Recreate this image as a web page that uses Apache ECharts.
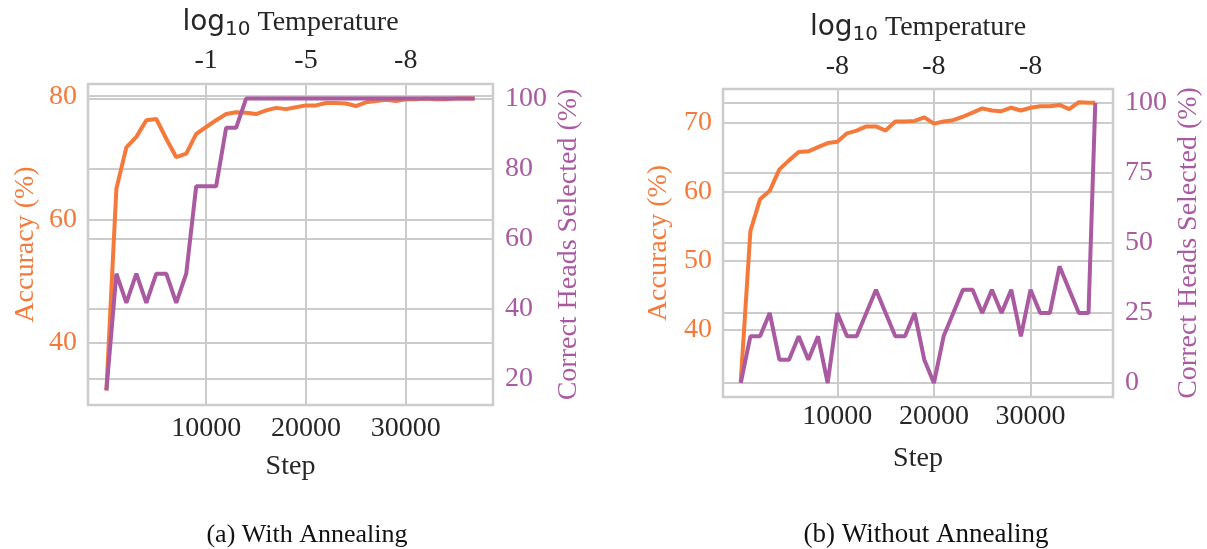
<!doctype html>
<html lang="en">
<head>
<meta charset="UTF-8">
<title>Annealing</title>
<script src="https://cdn.jsdelivr.net/npm/echarts@6/dist/echarts.min.js"></script>
<style>
  html, body { margin: 0; padding: 0; background: #fff; }
  #main { width: 1207px; height: 549px; }
</style>
</head>
<body>
<div id="main"></div>
<script>
// (a) with annealing
var stepsA = [0, 1000, 2000, 3000, 4000, 5000, 6000, 7000, 8000, 9000, 10000, 11000, 12000,
  13000, 14000, 15000, 16000, 17000, 18000, 19000, 20000, 21000, 22000, 23000, 24000, 25000,
  26000, 27000, 28000, 29000, 30000, 31000, 32000, 33000, 34000, 35000, 36000, 36900];
var accA = [32.3, 65.0, 71.7, 73.4, 76.1, 76.3, 73.1, 70.1, 70.7, 73.9, 75.0, 76.1, 77.1,
  77.4, 77.3, 77.1, 77.7, 78.1, 77.9, 78.2, 78.5, 78.5, 78.9, 78.9, 78.8, 78.4,
  79.0, 79.2, 79.4, 79.2, 79.5, 79.5, 79.6, 79.5, 79.5, 79.6, 79.6, 79.6];
var headsA = [16.67, 50, 41.67, 50, 41.67, 50, 50, 41.67, 50, 75, 75, 75, 91.67,
  91.67, 100, 100, 100, 100, 100, 100, 100, 100, 100, 100, 100, 100,
  100, 100, 100, 100, 100, 100, 100, 100, 100, 100, 100, 100];
var tempA = ['-1', '-5', '-8'];

// (b) without annealing
var stepsB = [0, 1000, 2000, 3000, 4000, 5000, 6000, 7000, 8000, 9000, 10000, 11000, 12000,
  13000, 14000, 15000, 16000, 17000, 18000, 19000, 20000, 21000, 22000, 23000, 24000, 25000,
  26000, 27000, 28000, 29000, 30000, 31000, 32000, 33000, 34000, 35000, 36000, 36700];
var accB = [32.5, 54.3, 58.9, 60.1, 63.2, 64.5, 65.7, 65.8, 66.4, 67.0, 67.2, 68.4, 68.8,
  69.4, 69.4, 68.8, 70.1, 70.1, 70.2, 70.7, 69.8, 70.1, 70.3, 70.8, 71.4, 72.0,
  71.7, 71.6, 72.1, 71.7, 72.1, 72.3, 72.3, 72.5, 71.9, 72.9, 72.8, 72.8];
var headsB = [0, 16.67, 16.67, 25, 8.33, 8.33, 16.67, 8.33, 16.67, 0, 25, 16.67, 16.67,
  25, 33.33, 25, 16.67, 16.67, 25, 8.33, 0, 16.67, 25, 33.33, 33.33, 25,
  33.33, 25, 33.33, 16.67, 33.33, 25, 25, 41.67, 33.33, 25, 25, 100];
var tempB = ['-8', '-8', '-8'];

var stepTicks = [10000, 20000, 30000];
var accTicksA = [40, 60, 80];
var headTicksA = [20, 40, 60, 80, 100];
var accTicksB = [40, 50, 60, 70];
var headTicksB = [0, 25, 50, 75, 100];

var ORANGE = '#F5793A';
var PURPLE = '#A95AA1';
var GRIDC = '#cccccc';
var TXT = '#262626';
var SERIF = '"Liberation Serif", "Times New Roman", serif';
var FS = 28;

function pairs(xs, ys) {
  var out = [];
  for (var i = 0; i < xs.length; i++) out.push([xs[i], ys[i]]);
  return out;
}

var tempTitle = {
  text: '{s|log}{sub|10}{t| Temperature}',
  rich: {
    s: { fontFamily: '"DejaVu Sans", sans-serif', fontSize: 28, color: TXT, verticalAlign: 'top', lineHeight: 31 },
    sub: { fontFamily: '"DejaVu Sans", sans-serif', fontSize: 20, color: TXT, verticalAlign: 'bottom', lineHeight: 22, padding: [12, 0, 0, 0] },
    t: { fontFamily: SERIF, fontSize: 28, color: TXT, verticalAlign: 'top', lineHeight: 31 }
  }
};

function xAxes(gi, xmin, xmax, temps, lblMargin, topMargin) {
  return [{
    type: 'value', gridIndex: gi, min: xmin, max: xmax, position: 'bottom',
    name: 'Step', nameLocation: 'middle', nameGap: 48,
    nameTextStyle: { fontFamily: SERIF, fontSize: FS, color: TXT },
    axisLine: { show: false }, axisTick: { show: false, customValues: stepTicks },
    axisLabel: {
      customValues: stepTicks, fontFamily: SERIF, fontSize: FS, color: TXT, margin: lblMargin,
      formatter: function (v) { return String(v); }
    },
    splitLine: { show: true, lineStyle: { color: GRIDC, width: 2 } }
  }, {
    type: 'value', gridIndex: gi, min: xmin, max: xmax, position: 'top',
    name: tempTitle.text, nameLocation: 'middle', nameGap: 44,
    nameTextStyle: { rich: tempTitle.rich },
    axisLine: { show: false }, axisTick: { show: false, customValues: stepTicks },
    axisLabel: {
      customValues: stepTicks, fontFamily: SERIF, fontSize: FS, color: TXT, margin: topMargin,
      formatter: function (v) { return temps[stepTicks.indexOf(v)] || ''; }
    },
    splitLine: { show: false }
  }];
}

function yAxes(gi, amin, amax, aticks, hmin, hmax, hticks, gapL, gapR) {
  return [{
    type: 'value', gridIndex: gi, min: amin, max: amax, position: 'left',
    name: 'Accuracy (%)', nameLocation: 'middle', nameGap: gapL,
    nameTextStyle: { fontFamily: SERIF, fontSize: FS, color: ORANGE },
    axisLine: { show: false }, axisTick: { show: false, customValues: aticks },
    axisLabel: { customValues: aticks, fontFamily: SERIF, fontSize: FS, color: ORANGE, margin: 11 },
    splitLine: { show: true, lineStyle: { color: GRIDC, width: 2 } }
  }, {
    type: 'value', gridIndex: gi, min: hmin, max: hmax, position: 'right',
    name: 'Correct Heads Selected (%)', nameLocation: 'middle', nameGap: gapR,
    nameTextStyle: { fontFamily: SERIF, fontSize: FS, color: PURPLE },
    axisLine: { show: false }, axisTick: { show: false, customValues: hticks },
    axisLabel: { customValues: hticks, fontFamily: SERIF, fontSize: FS, color: PURPLE, margin: 12 },
    splitLine: { show: true, lineStyle: { color: GRIDC, width: 2 } }
  }];
}

function line(data, xi, yi, color) {
  return {
    type: 'line', data: data, xAxisIndex: xi, yAxisIndex: yi,
    showSymbol: false, symbol: 'none', animation: false,
    lineStyle: { color: color, width: 4 }, itemStyle: { color: color }
  };
}

var chart = echarts.init(document.getElementById('main'), null, { renderer: 'canvas' });
chart.setOption({
  backgroundColor: '#fff',
  animation: false,
  grid: [
    { left: 88, right: 714, top: 84, bottom: 144, show: true, borderColor: GRIDC, borderWidth: 2.5, backgroundColor: 'transparent' },
    { left: 723, right: 94, top: 89, bottom: 152, show: true, borderColor: GRIDC, borderWidth: 2.5, backgroundColor: 'transparent' }
  ],
  xAxis: xAxes(0, -1845, 38745, tempA, 10, 9).concat(xAxes(1, -1835, 38535, tempB, 6, 8)),
  yAxis: yAxes(0, 29.94, 81.97, accTicksA, 12.5, 104.17, headTicksA, 48, 62)
    .concat(yAxes(1, 30.35, 74.8, accTicksB, -5, 105, headTicksB, 50, 62)),
  series: [
    line(pairs(stepsA, accA), 0, 0, ORANGE),
    line(pairs(stepsA, headsA), 0, 1, PURPLE),
    line(pairs(stepsB, accB), 2, 2, ORANGE),
    line(pairs(stepsB, headsB), 2, 3, PURPLE)
  ],
  graphic: [
    { type: 'text', x: 307, y: 535, style: { text: '(a) With Annealing', font: '26px ' + SERIF, fill: '#111', textAlign: 'center', textVerticalAlign: 'middle' } },
    { type: 'text', x: 926, y: 535, style: { text: '(b) Without Annealing', font: '27px ' + SERIF, fill: '#111', textAlign: 'center', textVerticalAlign: 'middle' } }
  ]
});
</script>
</body>
</html>
